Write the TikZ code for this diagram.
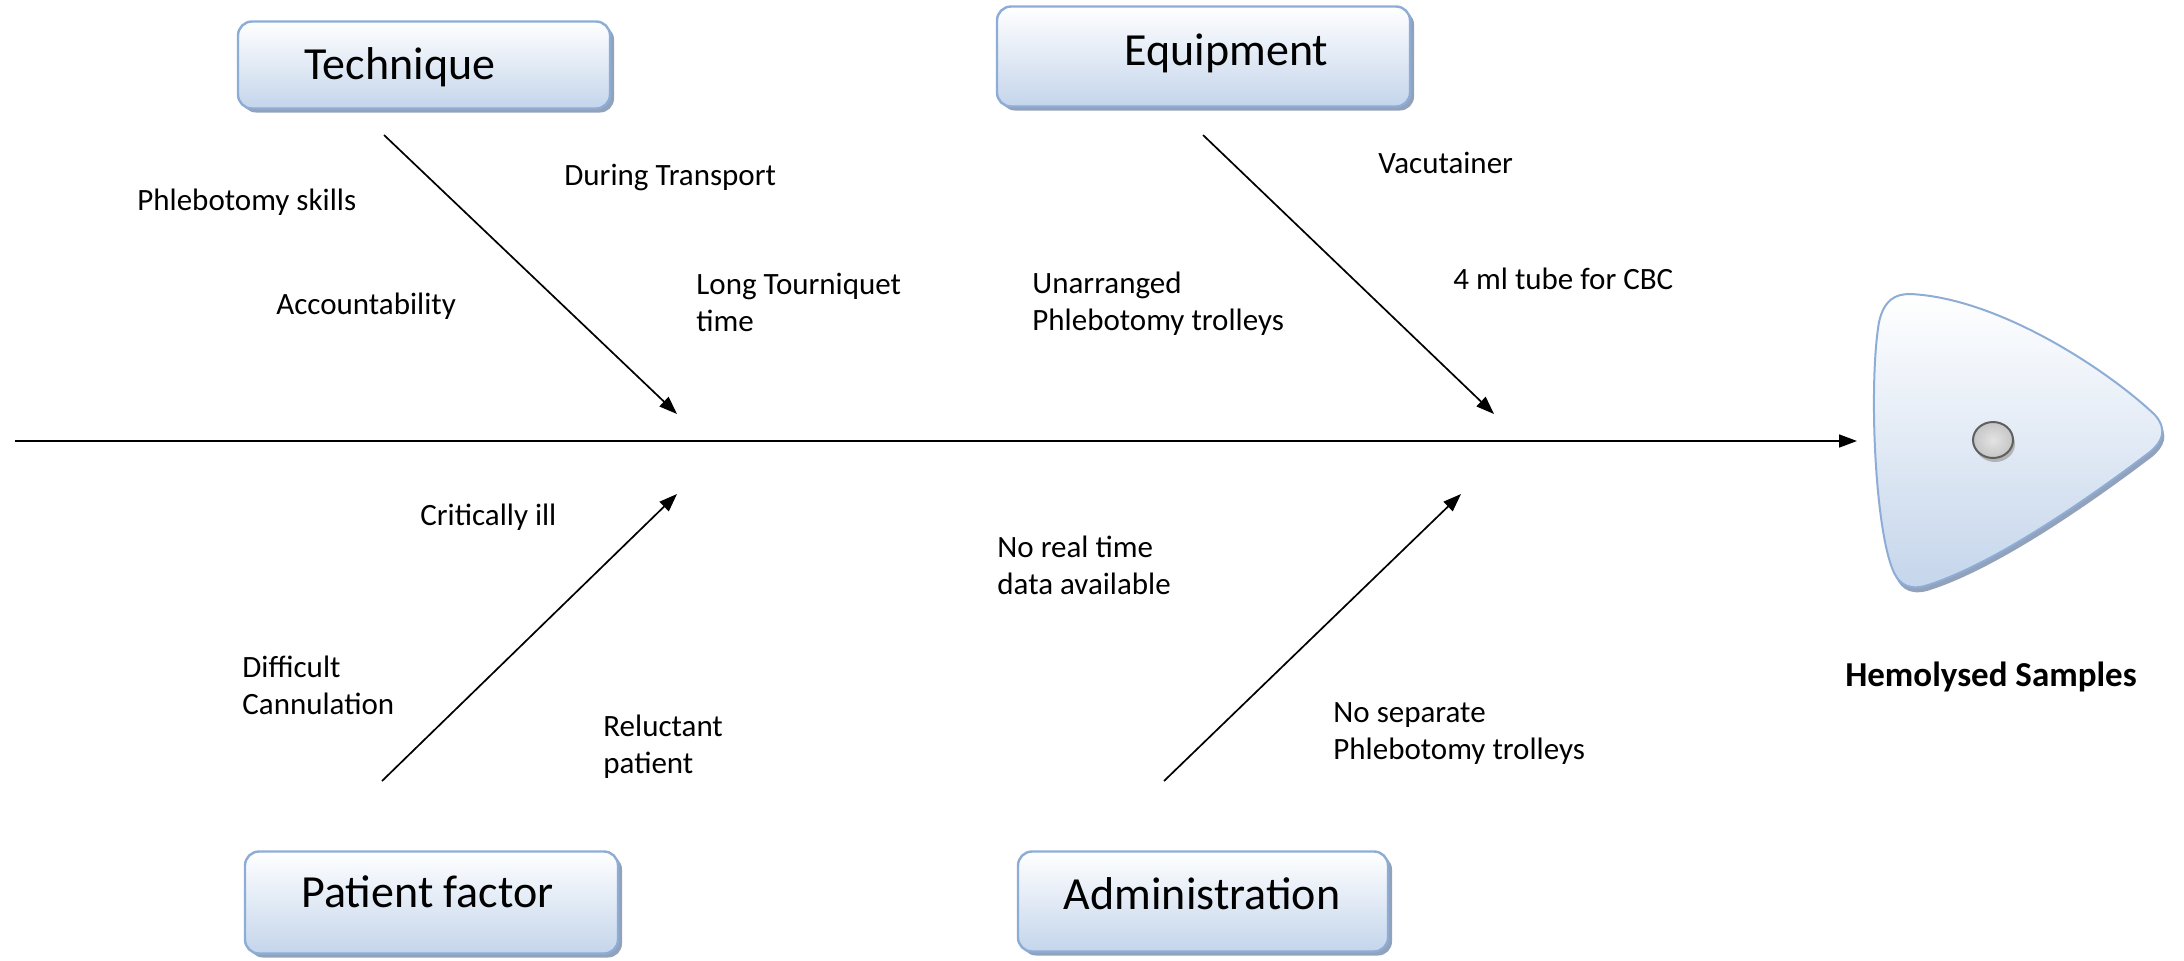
\documentclass[tikz,border=0pt]{standalone}
\usepackage{fontspec}
\setmainfont{Carlito}
\usetikzlibrary{arrows.meta,shadows}

\definecolor{boxline}{RGB}{141,173,214}
\definecolor{boxbottom}{RGB}{196,213,235}
\definecolor{boxshadow}{RGB}{128,146,175}
\definecolor{eyeline}{RGB}{95,95,95}

% category caption, shifted inside its box by (#1/2, #2)
\newcommand\catlabel[3]{\makebox[0pt]{\hspace*{#1}\raisebox{#2}{#3}}}

\begin{document}
\begin{tikzpicture}[x=0.5pt,y=-0.5pt,
  catbox/.style={draw=boxline, line width=1.2pt, rounded corners=7pt,
    top color=white, bottom color=boxbottom,
    drop shadow={shadow xshift=2pt, shadow yshift=-2pt, fill=boxshadow, opacity=0.85},
    font=\fontsize{23}{27.5}\selectfont, text height=0.7em, text depth=0.2em, inner sep=0pt},
  cause/.style={font=\fontsize{15.5}{18.8}\selectfont, align=left, anchor=west, inner sep=0pt},
  bone/.style={line width=0.85pt, -{Triangle[length=9pt,width=6.5pt]}},
  headshape/.style={draw=boxline, line width=1pt, top color=white, bottom color=boxbottom,
    drop shadow={shadow xshift=1pt, shadow yshift=-2.5pt, fill=boxshadow, opacity=0.85}},
  eyeshape/.style={draw=eyeline, line width=1pt, inner color=gray!22, outer color=gray!45,
    drop shadow={shadow xshift=1pt, shadow yshift=-2pt, fill=gray!70, opacity=0.8}},
]
\useasboundingbox (0,0) rectangle (2184,960);

% spine
\coordinate (spineStart) at (15,441);
\coordinate (spineEnd) at (1857,441);
\draw[bone] (spineStart) -- (spineEnd);

% fish head with eye
\path[headshape] (1910,294) .. controls (2000,298) and (2110,372) .. (2155,415)
  .. controls (2168,430) and (2162,442) .. (2150,452)
  .. controls (2080,505) and (1990,566) .. (1925,586)
  .. controls (1905,591) and (1897,581) .. (1892,568)
  .. controls (1874,520) and (1869,380) .. (1879,322)
  .. controls (1884,300) and (1895,294) .. (1910,294) -- cycle;
\path[eyeshape] (1993,440) ellipse [x radius=10pt, y radius=9pt];
\node[font=\bfseries\fontsize{17.5}{21}\selectfont, anchor=base, inner sep=0pt] (effect) at (1991,686) {Hemolysed Samples};

% category boxes
\node[catbox, minimum width=186pt, minimum height=43.5pt] (technique) at (424,65)
  {\catlabel{-24pt}{-4.75pt}{Technique}};
\node[catbox, minimum width=206.5pt, minimum height=50pt] (equipment) at (1203.5,56.5)
  {\catlabel{23pt}{-2pt}{Equipment}};
\node[catbox, minimum width=186.5pt, minimum height=51pt] (patient) at (431.5,902.5)
  {\catlabel{-4pt}{-0.2pt}{Patient factor}};
\node[catbox, minimum width=185pt, minimum height=50pt] (admin) at (1203,901.5)
  {\catlabel{-1pt}{-1.3pt}{Administration}};

% bones
\coordinate (techTail) at (384,135);  \coordinate (techHead) at (677,414);
\coordinate (equipTail) at (1203,135); \coordinate (equipHead) at (1494,414);
\coordinate (patTail) at (382,781);   \coordinate (patHead) at (677,494);
\coordinate (adminTail) at (1164,781); \coordinate (adminHead) at (1461,494);
\draw[bone] (techTail) -- (techHead);
\draw[bone] (equipTail) -- (equipHead);
\draw[bone] (patTail) -- (patHead);
\draw[bone] (adminTail) -- (adminHead);

% causes
\node[cause] (skills) at (137,202.5) {\strut Phlebotomy skills};
\node[cause] (transport) at (564,177.5) {\strut During Transport};
\node[cause] (account) at (276,306.5) {\strut Accountability};
\node[cause] (tourniquet) at (696,305.5) {\strut Long Tourniquet\\\strut time};
\node[cause] (unarranged) at (1032,304.5) {\strut Unarranged\\\strut Phlebotomy trolleys};
\node[cause] (vacutainer) at (1378,165.5) {\strut Vacutainer};
\node[cause] (tube) at (1453,281.5) {\strut 4 ml tube for CBC};
\node[cause] (critical) at (420,517.5) {\strut Critically ill};
\node[cause] (realtime) at (997,568.5) {\strut No real time\\\strut data available};
\node[cause] (cannulation) at (242,688.5) {\strut Difficult\\\strut Cannulation};
\node[cause] (reluctant) at (603,747.5) {\strut Reluctant\\\strut patient};
\node[cause] (separate) at (1333,733.5) {\strut No separate\\\strut Phlebotomy trolleys};
\end{tikzpicture}
\end{document}
